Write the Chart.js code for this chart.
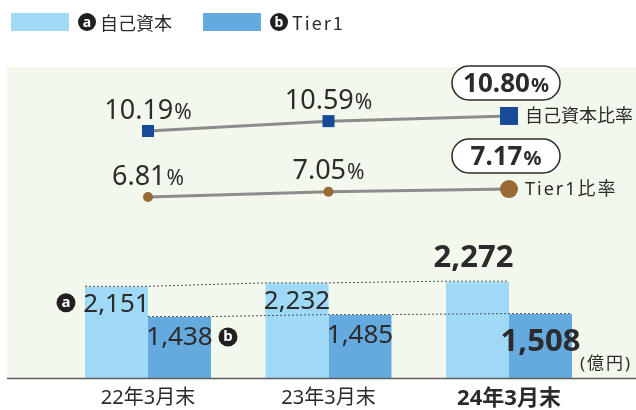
<!DOCTYPE html>
<html>
<head>
<meta charset="utf-8">
<script src="https://cdn.jsdelivr.net/npm/chart.js@4/dist/chart.umd.min.js"></script>
<style>
body { margin: 0; background: #fff; }
#wrap { position: relative; width: 636px; height: 410px; font-family: 'Noto Sans', 'Noto Sans CJK JP', sans-serif; color: #2b2b2b; }
#chart { position: absolute; left: 0; top: 0; }
.lg { position: absolute; top: 13px; height: 18px; display: flex; align-items: center; font-size: 18px; }
.sw { width: 58px; height: 18px; margin-right: 9px; }
.badge { width: 18px; height: 18px; border-radius: 50%; background: #231f20; color: #fff; font: bold 14px 'Noto Sans', sans-serif; line-height: 17px; text-align: center; margin-right: 4px; }
.lg span.t { font-family: 'Noto Sans CJK JP', sans-serif; }
</style>
</head>
<body>
<div id="wrap">
  <canvas id="chart" width="636" height="410"></canvas>
  <div class="lg" style="left:11px"><div class="sw" style="background:#9fd9f6"></div><div class="badge">a</div><span class="t">自己資本</span></div>
  <div class="lg" style="left:203px"><div class="sw" style="background:#64aadf"></div><div class="badge">b</div><span class="t" style="letter-spacing:2px">Tier1</span></div>
</div>
<script>
// 億円
var categories = ['22年3月末', '23年3月末', '24年3月末'];
var capital = [2151, 2232, 2272];
var tier1 = [1438, 1485, 1508];
// %
var capitalRatio = [10.19, 10.59, 10.80];
var tier1Ratio = [6.81, 7.05, 7.17];

var FONT = "'Noto Sans', 'Noto Sans CJK JP', sans-serif";
var INK = '#2b2b2b';

function drawPct(ctx, x, y, val, bold, size) {
  var num = val.toFixed(2);
  var w = bold ? 'bold ' : '';
  var ps = Math.round(size * 0.76);
  ctx.font = w + size + 'px ' + FONT;
  var w1 = ctx.measureText(num).width;
  ctx.font = w + ps + 'px ' + FONT;
  var w2 = ctx.measureText('%').width;
  var sx = x - (w1 + w2 + 1) / 2;
  var by = y + size * 0.36;
  ctx.textAlign = 'left';
  ctx.textBaseline = 'alphabetic';
  ctx.fillStyle = INK;
  ctx.font = w + size + 'px ' + FONT;
  ctx.fillText(num, sx, by);
  ctx.font = w + ps + 'px ' + FONT;
  ctx.fillText('%', sx + w1 + 1, by);
}

function drawNum(ctx, x, y, val, bold, size) {
  ctx.font = (bold ? 'bold ' : '') + size + 'px ' + FONT;
  ctx.textAlign = 'center';
  ctx.textBaseline = 'middle';
  ctx.fillStyle = INK;
  ctx.fillText(val.toLocaleString('en-US'), x, y + 1);
}

function badge(ctx, x, y, ch) {
  ctx.beginPath();
  ctx.arc(x, y, 9.5, 0, Math.PI * 2);
  ctx.fillStyle = '#231f20';
  ctx.fill();
  ctx.fillStyle = '#fff';
  ctx.font = 'bold 15px ' + FONT;
  ctx.textAlign = 'center';
  ctx.textBaseline = 'middle';
  ctx.fillText(ch, x, y);
}

function pill(ctx, cx, cy, w, h) {
  var r = h / 2, x = cx - w / 2, y = cy - h / 2;
  ctx.beginPath();
  ctx.moveTo(x + r, y);
  ctx.lineTo(x + w - r, y);
  ctx.arc(x + w - r, cy, r, -Math.PI / 2, Math.PI / 2);
  ctx.lineTo(x + r, y + h);
  ctx.arc(x + r, cy, r, Math.PI / 2, Math.PI * 1.5);
  ctx.closePath();
  ctx.fillStyle = '#fff';
  ctx.fill();
  ctx.lineWidth = 1.5;
  ctx.strokeStyle = '#2b2b2b';
  ctx.stroke();
}

var decor = {
  id: 'decor',
  beforeDraw: function (chart) {
    var ctx = chart.ctx, a = chart.chartArea;
    ctx.save();
    ctx.fillStyle = '#f3f8ed';
    ctx.fillRect(7, a.top, chart.width - 7, a.bottom - a.top);
    ctx.restore();
  },
  afterDatasetsDraw: function (chart) {
    var ctx = chart.ctx, a = chart.chartArea;
    ctx.save();
    // baseline
    ctx.strokeStyle = '#5e5e5e';
    ctx.lineWidth = 1.5;
    ctx.beginPath();
    ctx.moveTo(7, a.bottom + 0.5);
    ctx.lineTo(chart.width, a.bottom + 0.5);
    ctx.stroke();

    // dotted lines over bar tops
    [0, 1].forEach(function (di) {
      var bars = chart.getDatasetMeta(di).data;
      ctx.beginPath();
      bars.forEach(function (b, i) {
        var l = b.x - b.width / 2, r = b.x + b.width / 2;
        if (i === 0) ctx.moveTo(l, b.y - 0.5); else ctx.lineTo(l, b.y - 0.5);
        ctx.lineTo(r, b.y - 0.5);
      });
      ctx.setLineDash([2, 2]);
      ctx.lineWidth = 1;
      ctx.strokeStyle = '#555';
      ctx.stroke();
    });
    ctx.setLineDash([]);

    // bar value labels
    var A = chart.getDatasetMeta(0).data, B = chart.getDatasetMeta(1).data;
    A.forEach(function (b, i) {
      if (i < 2) drawNum(ctx, b.x, b.y + 17, capital[i], false, 26);
      else drawNum(ctx, b.x - 4, b.y - 24, capital[i], true, 31);
    });
    B.forEach(function (b, i) {
      if (i < 2) drawNum(ctx, b.x, b.y + 20, tier1[i], false, 26);
      else drawNum(ctx, b.x, b.y + 27, tier1[i], true, 31);
    });
    badge(ctx, A[0].x - A[0].width / 2 - 19, A[0].y + 16, 'a');
    badge(ctx, B[0].x + B[0].width / 2 + 17, B[0].y + 20, 'b');

    ctx.font = '17px ' + FONT;
    ctx.letterSpacing = '2px';
    ctx.fillStyle = INK;
    ctx.textAlign = 'left';
    ctx.textBaseline = 'middle';
    ctx.fillText('(億円)', B[2].x + B[2].width / 2 + 8, a.bottom - 14);
    ctx.letterSpacing = '0px';

    // ratio labels
    [[2, capitalRatio, '自己資本比率', 0], [3, tier1Ratio, 'Tier1比率', 2]].forEach(function (s) {
      var pts = chart.getDatasetMeta(s[0]).data;
      pts.forEach(function (p, i) {
        if (i < pts.length - 1) {
          drawPct(ctx, p.x, p.y - 22, s[1][i], false, 27);
        } else {
          pill(ctx, p.x - 3, p.y - 33, 108, 34);
          drawPct(ctx, p.x - 3, p.y - 33, s[1][i], true, 26);
          ctx.font = '18px ' + FONT;
          ctx.letterSpacing = s[3] + 'px';
          ctx.fillStyle = INK;
          ctx.textAlign = 'left';
          ctx.textBaseline = 'middle';
          ctx.fillText(s[2], p.x + 16, p.y + 1);
          ctx.letterSpacing = '0px';
        }
      });
    });
    ctx.restore();
  }
};

new Chart(document.getElementById('chart'), {
  type: 'bar',
  data: {
    labels: categories,
    datasets: [
      { label: '自己資本', data: capital, backgroundColor: '#9fd9f6', yAxisID: 'y', barPercentage: 1, categoryPercentage: 0.698, order: 2 },
      { label: 'Tier1', data: tier1, backgroundColor: '#64aadf', yAxisID: 'y', barPercentage: 1, categoryPercentage: 0.698, order: 2 },
      { type: 'line', label: '自己資本比率', data: capitalRatio, yAxisID: 'yCap', borderColor: '#8c8c8c', borderWidth: 3,
        pointStyle: 'rect', pointBackgroundColor: '#174a98', pointBorderWidth: 0,
        pointRadius: function (c) { return c.dataIndex === 2 ? 12.7 : 8.5; }, order: 1 },
      { type: 'line', label: 'Tier1比率', data: tier1Ratio, yAxisID: 'yT1', borderColor: '#8c8c8c', borderWidth: 3,
        pointStyle: 'circle', pointBackgroundColor: '#9a6a35', pointBorderWidth: 0,
        pointRadius: function (c) { return c.dataIndex === 2 ? 9 : 5; }, order: 1 }
    ]
  },
  options: {
    responsive: false,
    animation: false,
    devicePixelRatio: 1,
    layout: { padding: { left: 57.75, right: 36.75, top: 67, bottom: 0 } },
    plugins: { legend: { display: false }, tooltip: { enabled: false } },
    scales: {
      x: {
        grid: { display: false, drawTicks: false },
        border: { display: false },
        ticks: {
          padding: 8,
          color: INK,
          font: function (c) { return c.index === 2 ? { family: FONT, size: 22, weight: 'bold' } : { family: FONT, size: 20 }; }
        },
        afterFit: function (s) { s.height = 32; }
      },
      y: { display: false, min: 0, max: 7335 },
      yCap: { display: false, min: 0.15, max: 12.79 },
      yT1: { display: false, min: -1.343, max: 12.666 }
    }
  },
  plugins: [decor]
});
</script>
</body>
</html>
